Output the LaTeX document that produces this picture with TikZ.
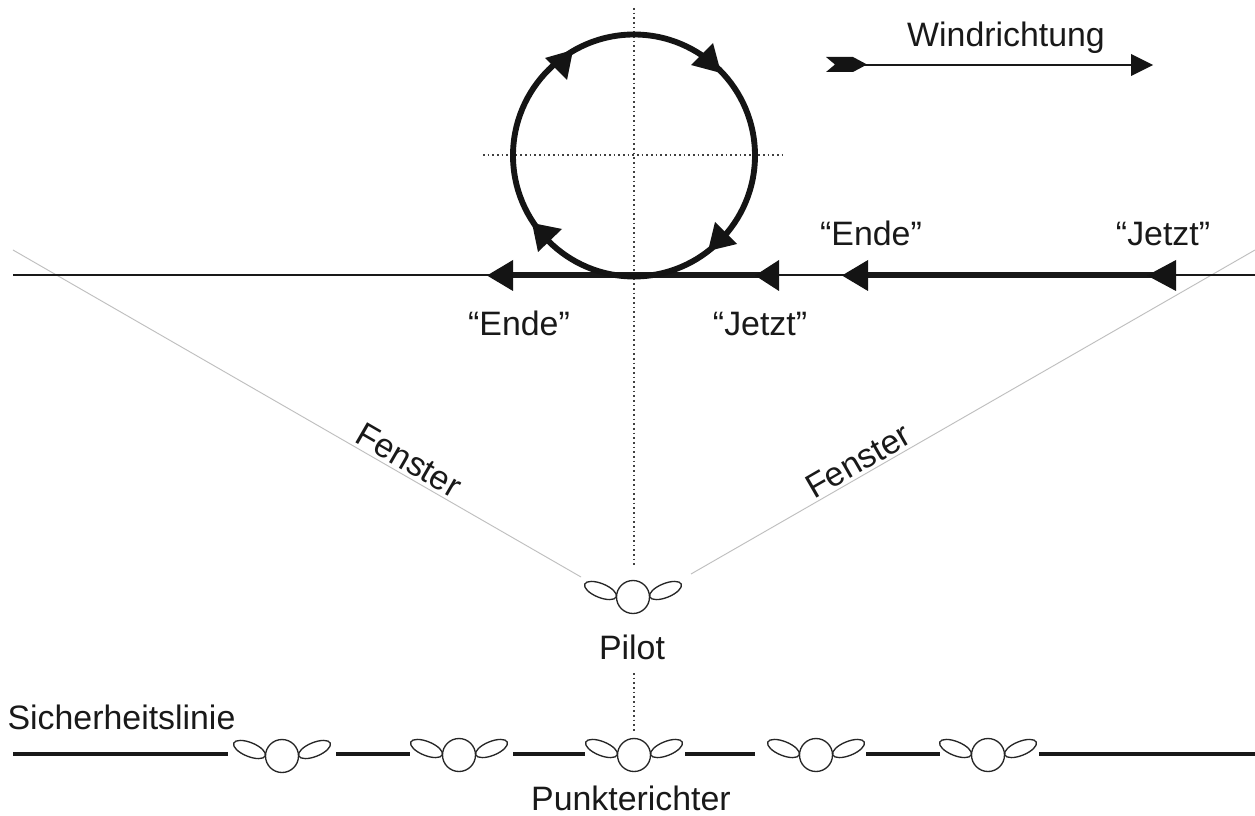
\documentclass[tikz,border=0pt]{standalone}
\usepackage{fontspec}
\setmainfont{Liberation Sans}
\tikzset{
  x=0.75pt,y=-0.75pt,
  lab/.style={font=\fontsize{25.4}{30}\selectfont,text=black!90,inner sep=0pt,anchor=base},
  thinline/.style={draw=black!90,line width=1.6pt},
  thickline/.style={draw=black!90,line width=4.2pt},
  safeline/.style={draw=black!90,line width=3pt},
  loopline/.style={draw=black!92,line width=4.4pt},
  dotline/.style={draw=black!75,line width=1.3pt,dash pattern=on 1.3pt off 2.2pt},
  winline/.style={draw=black!25,line width=0.7pt},
  tipfill/.style={fill=black!92,draw=none},
  pilotfig/.pic={
    \draw[black!85,line width=1pt,fill=white] (-32.5,-6.5) ellipse [x radius=17,y radius=7,rotate=-22];
    \draw[black!85,line width=1pt,fill=white] (32.5,-6.5) ellipse [x radius=17,y radius=7,rotate=22];
    \draw[black!85,line width=1pt,fill=white] (0,0) circle [radius=16.5];
  }
}
\begin{document}
\begin{tikzpicture}
\useasboundingbox (0,0) rectangle (1255,816);
\fill[white] (0,0) rectangle (1255,816);
% coordinates
\coordinate (wl) at (13,275); \coordinate (wr) at (1255,275);
\coordinate (a1) at (866,275); \coordinate (a2) at (1160,275);
\coordinate (b1) at (500,275); \coordinate (b2) at (770,275);
\coordinate (c) at (634,155.5);
\coordinate (fl1) at (13,250); \coordinate (fl2) at (581,577);
\coordinate (fr1) at (1255,250); \coordinate (fr2) at (691,574);
\coordinate (v1) at (634,8); \coordinate (v2) at (634,567);
\coordinate (v3) at (634,673); \coordinate (v4) at (634,733);
\coordinate (h1) at (483,155); \coordinate (h2) at (782,155);
\coordinate (w1) at (860,65); \coordinate (w2) at (1135,65);
% window lines
\draw[winline] (fl1) -- (fl2);
\draw[winline] (fr1) -- (fr2);
% centre lines
\draw[dotline] (v1) -- (v2);
\draw[dotline] (v3) -- (v4);
\draw[dotline] (h1) -- (h2);
% flight line
\draw[thinline] (wl) -- (wr);
\draw[thickline] (a1) -- (a2);
\draw[thickline] (b1) -- (b2);
% loop
\draw[loopline] (c) circle [radius=121];
% loop arrowheads
\fill[tipfill] (713,43) -- (691,65) -- (721,73) -- cycle;
\fill[tipfill] (545,58) -- (573,50) -- (567,80) -- cycle;
\fill[tipfill] (715,222) -- (737,244) -- (708,251) -- cycle;
\fill[tipfill] (532,223) -- (562,229) -- (538,252) -- cycle;
% flight line arrowheads
\fill[tipfill] (487,275.5) -- (513,260) -- (513,291) -- cycle;
\fill[tipfill] (755,275.5) -- (779,260) -- (779,291) -- cycle;
\fill[tipfill] (842,275.5) -- (868,260) -- (868,291) -- cycle;
\fill[tipfill] (1147,275.5) -- (1176,260) -- (1176,291) -- cycle;
% wind arrow
\draw[thinline] (w1) -- (w2);
\fill[tipfill] (826,57) -- (853,57) -- (867,64.5) -- (853,72) -- (826,72) -- (835,64.5) -- cycle;
\fill[tipfill] (1153,65) -- (1131,54) -- (1131,76) -- cycle;
% safety line
\coordinate (s1) at (13,754); \coordinate (s2) at (228,754);
\coordinate (s3) at (336,754); \coordinate (s4) at (410,754);
\coordinate (s5) at (513,754); \coordinate (s6) at (585,754);
\coordinate (s7) at (685,754); \coordinate (s8) at (755,754);
\coordinate (s9) at (866,754); \coordinate (s10) at (940,754);
\coordinate (s11) at (1039,754); \coordinate (s12) at (1255,754);
\draw[safeline] (s1) -- (s2);
\draw[safeline] (s3) -- (s4);
\draw[safeline] (s5) -- (s6);
\draw[safeline] (s7) -- (s8);
\draw[safeline] (s9) -- (s10);
\draw[safeline] (s11) -- (s12);
% figures
\pic at (633,597) {pilotfig};
\pic at (282,756) {pilotfig};
\pic at (459,755) {pilotfig};
\pic at (634,755) {pilotfig};
\pic at (816,755) {pilotfig};
\pic at (988,755) {pilotfig};
% labels
\node[lab] (wind) at (1006,47) {Windrichtung};
\node[lab] (ende1) at (871,246) {“Ende”};
\node[lab] (jetzt1) at (1163,246) {“Jetzt”};
\node[lab] (ende2) at (519,335) {“Ende”};
\node[lab] (jetzt2) at (760,335) {“Jetzt”};
\node[lab,rotate=-30,anchor=center] (fen1) at (409,460) {Fenster};
\node[lab,rotate=30,anchor=center] (fen2) at (858,461) {Fenster};
\node[lab] (pilot) at (632,659) {Pilot};
\node[lab] (sich) at (121.5,729) {Sicherheitslinie};
\node[lab] (punkt) at (631,810) {Punkterichter};
\end{tikzpicture}
\end{document}
